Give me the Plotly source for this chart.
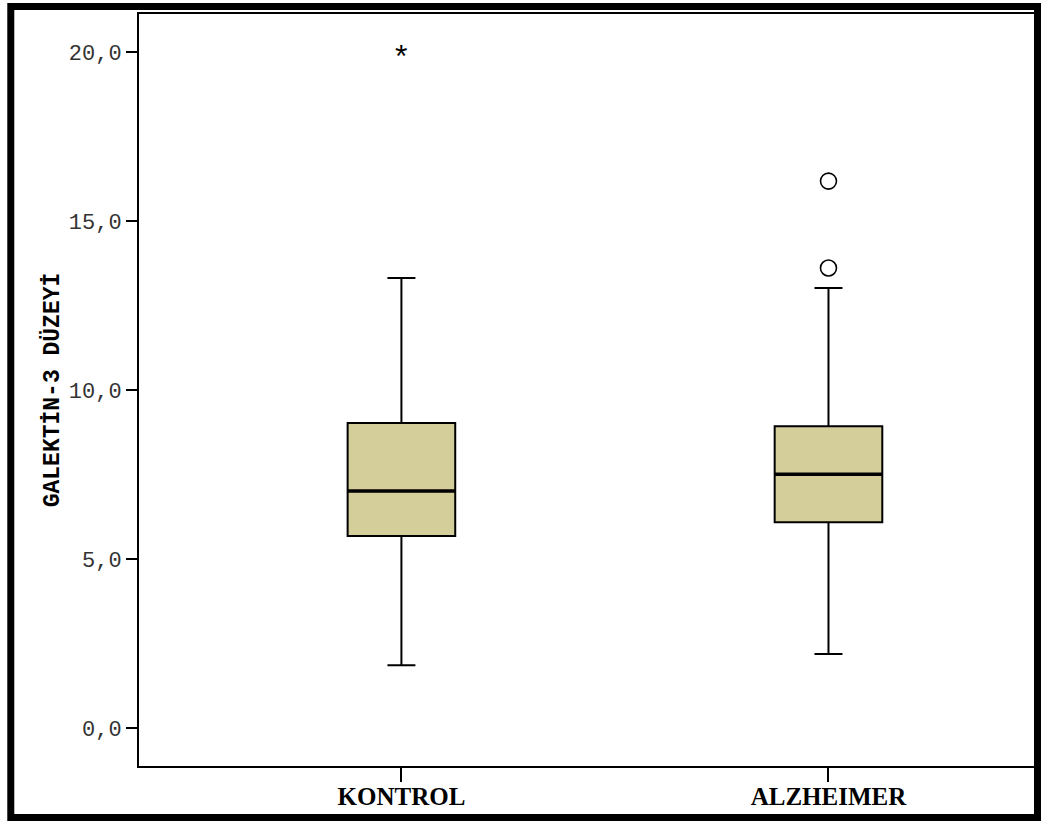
import plotly.graph_objects as go

# ---- data ----
categories = ["KONTROL", "ALZHEIMER"]
q1 = [5.68, 6.09]
median = [7.01, 7.51]
q3 = [9.02, 8.93]
lower_fence = [1.86, 2.19]
upper_fence = [13.31, 13.02]
extreme_x = ["KONTROL"]
extreme_y = [20.0]
outlier_x = ["ALZHEIMER", "ALZHEIMER"]
outlier_y = [16.18, 13.61]
y_tickvals = [0, 5, 10, 15, 20]
y_ticktext = ["0,0", "5,0", "10,0", "15,0", "20,0"]

W, H = 1043, 821
L, R, T, B = 139, 6, 14, 55
pw, ph = W - L - R, H - T - B

fig = go.Figure()

fig.add_trace(go.Box(
    x=categories, q1=q1, median=median, q3=q3,
    lowerfence=lower_fence, upperfence=upper_fence,
    fillcolor="#D3CE9A", line=dict(color="black", width=2),
    width=0.252, whiskerwidth=0.26, boxpoints=False, showlegend=False,
    hoverinfo="skip",
))
# thicker median line
fig.add_trace(go.Box(
    x=categories, q1=median, median=median, q3=median,
    lowerfence=median, upperfence=median,
    fillcolor="rgba(0,0,0,0)", line=dict(color="black", width=3.5),
    width=0.252, whiskerwidth=0, boxpoints=False, showlegend=False,
    hoverinfo="skip",
))
fig.add_trace(go.Scatter(
    x=outlier_x, y=outlier_y, mode="markers",
    marker=dict(symbol="circle-open", size=16, color="black", line=dict(width=1.6)),
    showlegend=False, hoverinfo="skip",
))
for ex, ey in zip(extreme_x, extreme_y):
    fig.add_annotation(x=ex, y=ey, text="*", showarrow=False, yshift=-4,
                       font=dict(family="Liberation Sans", size=32, color="black"))

def px_to_paper_x(px):
    return (px - L) / pw

def px_to_paper_y(py):
    return (H - B - py) / ph

fig.add_shape(type="rect", xref="paper", yref="paper",
              x0=px_to_paper_x(10.5), x1=px_to_paper_x(1039.5),
              y0=px_to_paper_y(817.5), y1=px_to_paper_y(6.5),
              line=dict(color="black", width=7), layer="above")

fig.update_layout(
    width=W, height=H,
    margin=dict(l=L, r=R, t=T, b=B, pad=0),
    paper_bgcolor="white", plot_bgcolor="white",
    boxmode="overlay",
    xaxis=dict(
        type="category", range=[-0.6145, 1.4836],
        showline=True, linecolor="black", linewidth=1.5, mirror=True,
        ticks="outside", ticklen=14, tickwidth=2, tickcolor="black",
        ticklabelstandoff=-7,
        showgrid=False, zeroline=False,
        tickfont=dict(family="Liberation Serif", size=25, color="black", weight="bold"),
    ),
    yaxis=dict(
        range=[-1.124, 21.124],
        tickvals=y_tickvals, ticktext=y_ticktext,
        showline=True, linecolor="black", linewidth=2, mirror=True,
        ticks="outside", ticklen=11, tickwidth=2, tickcolor="black",
        showgrid=False, zeroline=False,
        tickfont=dict(family="Liberation Mono", size=22, color="#333"),
        title=dict(text="GALEKTİN-3 DÜZEYİ", standoff=3,
                   font=dict(family="Liberation Mono", size=23, color="black", weight="bold")),
    ),
)

fig.write_html("out.html", config={"displayModeBar": False},
               post_script="document.body.style.margin='0px';")
